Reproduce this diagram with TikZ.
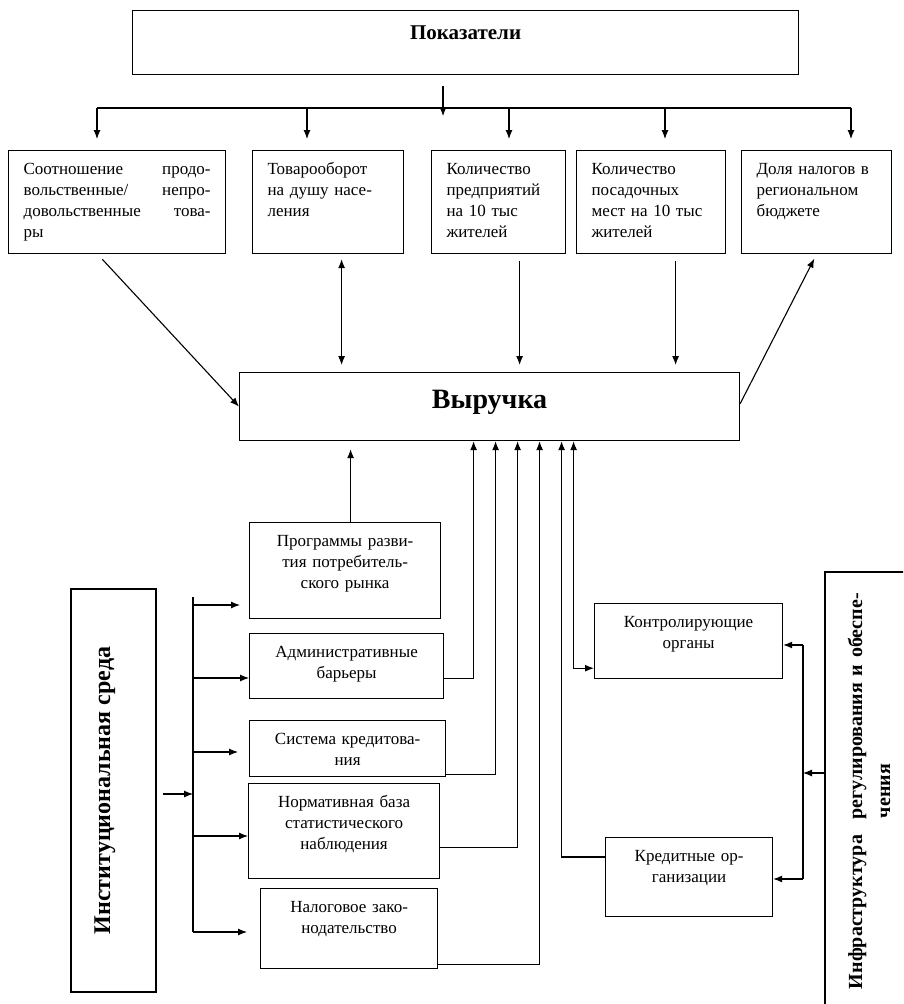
\documentclass[tikz,border=0pt]{standalone}
\usepackage{fontspec}
\setmainfont{Liberation Serif}
\usetikzlibrary{arrows.meta}

\begin{document}
\begin{tikzpicture}[
    x=1pt, y=-1pt,
    box/.style={draw, line width=1.2pt, anchor=north west, inner ysep=8pt, text height=16pt, font=\fontsize{17}{21}\selectfont},
    topbox/.style={box, inner xsep=15pt, align=left, text depth=71pt},
    midbox/.style={box, inner xsep=6pt, align=center},
    headbox/.style={draw, line width=1.2pt, align=center},
    arrow/.style={->, >={Latex[length=9pt,width=7pt]}, line width=1.1pt},
    twoway/.style={<->, >={Latex[length=9pt,width=7pt]}, line width=1.1pt},
    link/.style={line width=1.1pt}
]
\useasboundingbox (0,0) rectangle (903,1004);
\clip (0,0) rectangle (903,1004);

% Indicators
\node[headbox, anchor=north west, text width=666pt, inner xsep=0pt, inner ysep=8pt, text height=21pt, text depth=27pt, font=\bfseries\fontsize{21}{25}\selectfont] (pok) at (132,10) {Показатели};
\node[topbox, text width=187pt] (sootn) at (8,150) {Соотношение\hfill продо-\\вольственные/\hfill непро-\\довольственные\hfill това-\\ры};
\node[topbox, text width=121pt] (tovar) at (252,150) {Товарооборот\\на душу насе-\\ления};
\node[topbox, text width=104pt] (predpr) at (431,150) {Количество\\предприятий\\на 10 тыс\\жителей};
\node[topbox, text width=119pt] (posad) at (576,150) {Количество\\посадочных\\мест на 10 тыс\\жителей};
\node[topbox, text width=120pt] (nalog) at (741,150) {Доля налогов в\\региональном\\бюджете};

% Revenue
\node[headbox, anchor=north west, text width=500pt, inner xsep=0pt, inner ysep=8pt, text height=28pt, text depth=24pt, font=\bfseries\fontsize{28}{32}\selectfont] (rev) at (239,372) {Выручка};

% Institutional environment
\node[midbox, text width=179pt, text depth=64pt] (prog) at (249,522) {Программы разви-\\тия потребитель-\\ского рынка};
\node[midbox, text width=182pt, text depth=33pt] (admin) at (249,633) {Административные\\барьеры};
\node[midbox, text width=184pt, text depth=24pt] (sys) at (249,720) {Система кредитова-\\ния};
\node[midbox, text width=179pt, text depth=63pt] (norm) at (248,783) {Нормативная база\\статистического\\наблюдения};
\node[midbox, text width=165pt, text depth=48pt] (tax) at (260,888) {Налоговое зако-\\нодательство};
\node[headbox, rotate=90, minimum width=403pt, minimum height=85pt, inner sep=0pt, text height=39pt, text depth=46pt, font=\bfseries\fontsize{24}{28}\selectfont] (inst) at (113.5,790.5) {Институциональная среда};

% Regulation infrastructure
\node[midbox, text width=176pt, text depth=43pt] (ctrl) at (594,603) {Контролирующие\\органы};
\node[midbox, text width=155pt, text depth=47pt] (cred) at (605,837) {Кредитные ор-\\ганизации};
\node[headbox, rotate=90, text width=412pt, inner xsep=13pt, inner ysep=0pt, text height=37pt, text depth=51pt, font=\bfseries\fontsize{20}{28}\selectfont] (infra) at (869,791) {\mbox{Инфраструктура\hspace{0.45em} регулирования и обеспе-}\\чения};

% Top bus
\coordinate (tin) at (443,108);
\coordinate (t1) at (97,108);
\coordinate (t2) at (307,108);
\coordinate (t3) at (509,108);
\coordinate (t4) at (665,108);
\coordinate (t5) at (851,108);
\draw[arrow] (tin |- pok.south) ++(0,11) -- ++(0,30);
\draw[link] (t1) -- (t5);
\draw[arrow, shorten >=11pt] (t1) -- (t1 |- sootn.north);
\draw[arrow, shorten >=11pt] (t2) -- (t2 |- tovar.north);
\draw[arrow, shorten >=11pt] (t3) -- (t3 |- predpr.north);
\draw[arrow, shorten >=11pt] (t4) -- (t4 |- posad.north);
\draw[arrow, shorten >=11pt] (t5) -- (t5 |- nalog.north);

% Indicators and revenue
\draw[arrow, shorten <=7pt] ([xshift=-19.5pt]sootn.south) -- (rev.west);
\draw[twoway, shorten <=5pt, shorten >=7pt] ([xshift=13.5pt]tovar.south) -- ([xshift=13.5pt]tovar.south |- rev.north);
\draw[arrow, shorten <=7pt, shorten >=7pt] ([xshift=21pt]predpr.south) -- ([xshift=21pt]predpr.south |- rev.north);
\draw[arrow, shorten <=7pt, shorten >=7pt] ([xshift=24.5pt]posad.south) -- ([xshift=24.5pt]posad.south |- rev.north);
\draw[arrow, shorten >=5pt] ([yshift=3pt]rev.east) -- (nalog.south);

% Factors into revenue
\draw[arrow, shorten >=8pt] ([xshift=5.5pt]prog.north) -- ([xshift=5.5pt]prog.north |- rev.south);
\draw[arrow] ([yshift=21pt]admin.south east) -| ([xshift=-16pt]rev.south);
\draw[arrow] ([yshift=3pt]sys.south east) -| ([xshift=6pt]rev.south);
\draw[arrow] ([yshift=32pt]norm.south east) -| ([xshift=28pt]rev.south);
\draw[arrow] ([yshift=5pt]tax.south east) -| ([xshift=50pt]rev.south);
\draw[arrow] ([yshift=-20pt]cred.north west) -| ([xshift=72pt]rev.south);
\draw[twoway] ([xshift=84pt]rev.south) |- ([yshift=11pt]ctrl.south west);

% Left bus
\coordinate (ltop) at (193,597);
\coordinate (lin) at (193,794);
\coordinate (b1) at (193,605);
\coordinate (b2) at (193,678);
\coordinate (b3) at (193,752);
\coordinate (b4) at (193,836);
\coordinate (b5) at (193,932);
\draw[link] (ltop) -- (b5);
\draw[arrow, shorten <=6pt] (inst.south |- lin) -- (lin);
\draw[arrow, shorten >=9pt] (b1) -- (b1 -| prog.west);
\draw[arrow] (b2) -- (b2 -| admin.west);
\draw[arrow, shorten >=11pt] (b3) -- (b3 -| sys.west);
\draw[arrow] (b4) -- (b4 -| norm.west);
\draw[arrow, shorten >=13pt] (b5) -- (b5 -| tax.west);

% Right bus
\coordinate (rtop) at (803,645);
\coordinate (rin) at (803,773);
\coordinate (rbot) at (803,879);
\draw[link] (rtop) -- (rbot);
\draw[arrow] (infra.north |- rin) -- (rin);
\draw[arrow] (rtop) -- (rtop -| ctrl.east);
\draw[arrow] (rbot) -- (rbot -| cred.east);

\end{tikzpicture}
\end{document}
